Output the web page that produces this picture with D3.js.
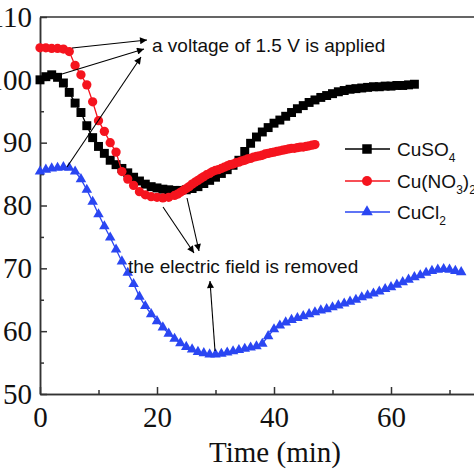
<!DOCTYPE html>
<html><head><meta charset="utf-8">
<script src="https://cdn.jsdelivr.net/npm/d3@7"></script>
<style>html,body{margin:0;padding:0;background:#fff;overflow:hidden}</style>
</head><body>
<script>
// ---- data (time in minutes) ----
const cuso4 = [100.0,100.5,100.8,100.4,99.5,98.0,96.3,94.8,92.7,90.8,89.4,88.3,87.2,86.5,85.9,85.2,84.5,83.9,83.4,83.0,82.8,82.6,82.5,82.4,82.4,82.5,82.7,83.0,83.5,84.0,84.5,85.1,85.7,86.4,87.2,88.6,89.9,90.9,91.7,92.4,93.1,93.6,94.2,94.8,95.4,95.9,96.4,96.8,97.2,97.5,97.8,98.1,98.3,98.5,98.6,98.7,98.8,98.9,98.9,99.0,99.0,99.1,99.1,99.2,99.3];
const cuno3Time = [0,1,2,3,4,5,6,7,8,9,10,11,12,13,14,15,16,17,18,19,20,21,22,23,23.5,24,24.5,25,25.5,26,26.5,27,27.5,28,28.5,29,29.5,30,30.5,31,31.5,32,32.5,33,33.5,34,34.5,35,35.5,36,36.5,37,37.5,38,38.5,39,39.5,40,40.5,41,41.5,42,42.5,43,43.5,44,44.5,45,45.5,46,46.5,47];
const cuno3 = [105.1,105.1,105.0,105.0,104.9,104.5,102.3,100.8,99.2,96.5,93.5,91.8,90.0,88.5,85.4,84.2,83.2,82.2,81.7,81.4,81.3,81.2,81.3,81.6,81.8,82.1,82.4,82.7,83.0,83.4,83.7,84.0,84.3,84.6,84.9,85.1,85.4,85.6,85.7,85.9,86.1,86.3,86.5,86.6,86.8,86.9,87.1,87.2,87.4,87.5,87.7,87.8,87.9,88.0,88.2,88.3,88.4,88.5,88.6,88.7,88.8,88.9,89.0,89.1,89.1,89.2,89.3,89.3,89.4,89.5,89.6,89.7];
const cucl2 = [85.4,85.7,85.9,86.0,86.1,86.0,85.4,84.2,82.5,80.6,78.6,76.7,74.9,73.0,71.1,69.3,67.5,65.5,64.0,62.7,61.6,60.6,59.6,58.8,58.1,57.5,57.1,56.7,56.5,56.3,56.3,56.4,56.6,56.8,57.0,57.2,57.4,57.6,58.0,59.2,60.3,60.9,61.4,61.8,62.1,62.4,62.7,63.0,63.3,63.5,63.8,64.1,64.4,64.7,65.0,65.4,65.7,66.0,66.3,66.7,67.0,67.4,67.8,68.2,68.6,68.9,69.3,69.6,69.8,69.9,69.8,69.6,69.4];
const xTicks = [0,20,40,60];
const xMinor = [10,30,50,70];
const yTicks = [50,60,70,80,90,100,110];
const yMinor = [55,65,75,85,95,105];

const W = 474, H = 474;
const svg = d3.select("body").append("svg").attr("width", W).attr("height", H);
const x = d3.scaleLinear().domain([0,75]).range([40, 40 + 75*5.85]);
const y = d3.scaleLinear().domain([50,110]).range([394, 17]);
const axisColor = "#333";
const serif = "'Liberation Serif','Times New Roman',serif";
const sans = "'Liberation Sans',Arial,sans-serif";

// frame (top, right)
svg.append("path")
  .attr("d", `M${x(0)},${y(110)}H${x(75)}V${y(50)}`)
  .attr("fill","none").attr("stroke",axisColor).attr("stroke-width",1.5);

function styleAxis(g){
  g.select(".domain").attr("stroke",axisColor).attr("stroke-width",1.5);
  g.selectAll(".tick line").attr("stroke",axisColor).attr("stroke-width",1.5);
  g.selectAll("text").attr("fill","#111").style("font-family",serif).style("font-size","29px");
}
// y axis
const gy = svg.append("g").attr("transform",`translate(${x(0)},0)`)
  .call(d3.axisLeft(y).tickValues(yTicks).tickSize(-7).tickSizeOuter(0).tickPadding(8).tickFormat(d3.format("d")));
styleAxis(gy);
const gym = svg.append("g").attr("transform",`translate(${x(0)},0)`)
  .call(d3.axisLeft(y).tickValues(yMinor).tickSize(-4).tickSizeOuter(0).tickFormat(""));
styleAxis(gym);
// x axis
const gx = svg.append("g").attr("transform",`translate(0,${y(50)})`)
  .call(d3.axisBottom(x).tickValues(xTicks).tickSize(-7).tickSizeOuter(0).tickPadding(12).tickFormat(d3.format("d")));
styleAxis(gx);
const gxm = svg.append("g").attr("transform",`translate(0,${y(50)})`)
  .call(d3.axisBottom(x).tickValues(xMinor).tickSize(-4).tickSizeOuter(0).tickFormat(""));
styleAxis(gxm);

svg.append("text").attr("x", 275).attr("y", 462).attr("text-anchor","middle")
  .style("font-family",serif).style("font-size","29px").attr("fill","#111")
  .text("Time (min)");

// series
const colors = ["#000000","#f5141e","#2a46f2"];
const shapes = [d3.symbolSquare, d3.symbolCircle, d3.symbolTriangle];
const sizes = [80, 68, 48];
const datasets = [
  cuso4.map((v,t) => [t, v]),
  cuno3.map((v,i) => [cuno3Time[i], v]),
  cucl2.map((v,t) => [t, v])
];
datasets.forEach((pts, i) => {
  svg.append("path").datum(pts)
    .attr("d", d3.line().x(d=>x(d[0])).y(d=>y(d[1])))
    .attr("fill","none").attr("stroke",colors[i]).attr("stroke-width",1.3);
  svg.append("g").selectAll("path").data(pts).join("path")
    .attr("transform", d=>`translate(${x(d[0])},${y(d[1])})`)
    .attr("d", d3.symbol().type(shapes[i]).size(sizes[i]))
    .attr("fill", colors[i]);
});

// legend
const legY = [149, 181, 212];
const legTexts = [["CuSO","4"],["Cu(NO","3",")","2"],["CuCl","2"]];
legY.forEach((ly, i) => {
  svg.append("line").attr("x1",345).attr("x2",390).attr("y1",ly).attr("y2",ly)
    .attr("stroke",colors[i]).attr("stroke-width",1.5);
  svg.append("path").attr("transform",`translate(367,${ly})`)
    .attr("d", d3.symbol().type(shapes[i]).size(sizes[i]+10)).attr("fill",colors[i]);
  const t = svg.append("text").attr("x",397).attr("y",ly+7)
    .style("font-family",sans).style("font-size","19px").attr("fill","#111");
  legTexts[i].forEach((p, k) => {
    const ts = t.append("tspan").text(p);
    if (k % 2 === 1) ts.attr("dy", 6).style("font-size","12px");
    else if (k > 0) ts.attr("dy", -6);
  });
});

// annotations
const defs = svg.append("defs");
defs.append("marker").attr("id","ah").attr("viewBox","0 0 10 10").attr("refX",10).attr("refY",5)
  .attr("markerWidth",9).attr("markerHeight",7).attr("markerUnits","userSpaceOnUse").attr("orient","auto")
  .append("path").attr("d","M0,0L10,5L0,10Z").attr("fill","#000");
const arrows = [
  [72,48,147,40],[62,74,144,49],[67,167,141,57],
  [163,207,194,253],[187,198,199,251],[215,351,210,281]
];
arrows.forEach(a => {
  svg.append("line").attr("x1",a[0]).attr("y1",a[1]).attr("x2",a[2]).attr("y2",a[3])
    .attr("stroke","#000").attr("stroke-width",1.1).attr("marker-end","url(#ah)");
});
svg.append("text").attr("x",152).attr("y",52).style("font-family",sans).style("font-size","19px").attr("fill","#111")
  .text("a voltage of 1.5 V is applied");
svg.append("text").attr("x",128).attr("y",273).style("font-family",sans).style("font-size","19px").attr("fill","#111")
  .text("the electric field is removed");
</script>
</body></html>
